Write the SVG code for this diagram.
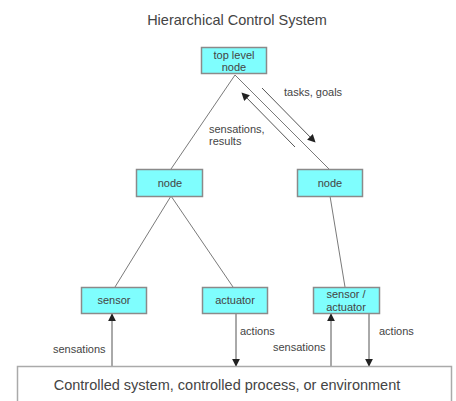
<svg xmlns="http://www.w3.org/2000/svg" width="456" height="401" viewBox="0 0 456 401">
<defs>
<style>
.box{fill:#7ffefe;stroke:#8a8a8a;stroke-width:1.5}
.ln{stroke:#7a7a7a;stroke-width:1;fill:none}
.ar{stroke:#555;stroke-width:1;fill:none;marker-end:url(#ah)}
.t{font-family:"Liberation Sans",Arial,sans-serif;font-size:11px;fill:#444;text-anchor:middle}
.lb{font-family:"Liberation Sans",Arial,sans-serif;font-size:11px;fill:#444}
</style>
<marker id="ah" viewBox="0 0 10 10" refX="9" refY="5" markerWidth="8" markerHeight="8" orient="auto" markerUnits="userSpaceOnUse">
<path d="M0,0 L10,5 L0,10 z" fill="#222"/>
</marker>
</defs>
<rect width="456" height="401" fill="#fff"/>
<text x="237" y="25" font-family="Liberation Sans, Arial, sans-serif" font-size="14.5" fill="#444" text-anchor="middle">Hierarchical Control System</text>

<g id="connectors">
<line class="ln" x1="235" y1="75" x2="171" y2="169"/>
<line class="ln" x1="235" y1="75" x2="329" y2="169"/>
<line class="ln" x1="171" y1="196" x2="115" y2="287"/>
<line class="ln" x1="171" y1="196" x2="233" y2="287"/>
<line class="ln" x1="330" y1="196" x2="345" y2="287"/>
<line class="ar" x1="262" y1="88" x2="315" y2="142"/>
<line class="ar" x1="295" y1="147" x2="242" y2="93"/>
<line class="ar" x1="112" y1="366" x2="112" y2="314"/>
<line class="ar" x1="236" y1="313" x2="236" y2="366"/>
<line class="ar" x1="331" y1="366" x2="331" y2="314"/>
<line class="ar" x1="369" y1="313" x2="369" y2="366"/>
<text class="lb" x="284" y="96">tasks,  goals</text>
<text class="lb" x="209" y="133">sensations,</text>
<text class="lb" x="209" y="145">results</text>
<text class="lb" x="53" y="353">sensations</text>
<text class="lb" x="240" y="335">actions</text>
<text class="lb" x="273" y="351">sensations</text>
<text class="lb" x="379" y="335">actions</text>
</g>

<g id="top">
<rect class="box" x="201.5" y="47.5" width="65" height="26"/>
<text class="t" x="234" y="59">top level</text>
<text class="t" x="234" y="71">node</text>
</g>
<g id="node-left">
<rect class="box" x="136.5" y="169.5" width="66" height="27"/>
<text class="t" x="170" y="187">node</text>
</g>
<g id="node-right">
<rect class="box" x="297.5" y="169.5" width="65" height="27"/>
<text class="t" x="330" y="187">node</text>
</g>
<g id="sensor">
<rect class="box" x="81.5" y="287.5" width="65" height="26"/>
<text class="t" x="114" y="304">sensor</text>
</g>
<g id="actuator">
<rect class="box" x="202.5" y="287.5" width="65" height="26"/>
<text class="t" x="235" y="304">actuator</text>
</g>
<g id="sensor-actuator">
<rect class="box" x="313.5" y="287.5" width="66" height="26"/>
<text class="t" x="346" y="298">sensor /</text>
<text class="t" x="346" y="311">actuator</text>
</g>
<g id="environment">
<rect x="17.5" y="366.5" width="434" height="50" fill="#fff" stroke="#aaa" stroke-width="1.5"/>
<text x="227" y="390" font-family="Liberation Sans, Arial, sans-serif" font-size="14.5" fill="#444" text-anchor="middle">Controlled system, controlled process, or environment</text>
</g>
</svg>
